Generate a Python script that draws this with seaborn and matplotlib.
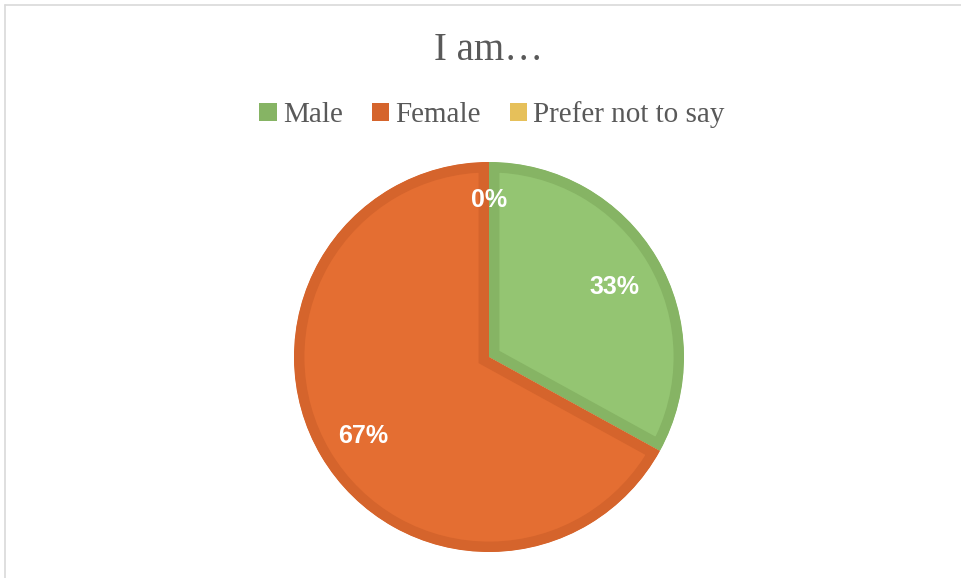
import numpy as np
import pandas as pd
import matplotlib
matplotlib.use("Agg")
import matplotlib.pyplot as plt
import seaborn as sns
from matplotlib.patches import Patch
from matplotlib.lines import Line2D

sns.set_theme(style="white")

# Datos
categorias = ['Male', 'Female', 'Prefer not to say']
porcentajes = [33, 67, 0]
colores = ['#94C572', '#E46E32', '#E6C05A']
bordes = ['#86B464', '#D5642C', '#D9B04A']

df = pd.DataFrame({'categoria': categorias, 'valor': porcentajes})

fig = plt.figure(figsize=(9.61, 5.78), dpi=100)
fig.patch.set_facecolor('white')

# marco gris del grafico
fig.add_artist(Line2D([5/961, 5/961], [0, 1 - 5/578], color='#D9D9D9', lw=1.2))
fig.add_artist(Line2D([5/961, 1], [1 - 5/578, 1 - 5/578], color='#D9D9D9', lw=1.2))

# eje del pie, radio ~195 px centrado en (489, 357)
r_px = 195
lim = 1.03
lado = 2 * lim * r_px
ax = fig.add_axes([(489 - lado / 2) / 961, (578 - 357 - lado / 2) / 578, lado / 961, lado / 578])

wedges, textos, autotextos = ax.pie(
    df['valor'], colors=colores, startangle=90, counterclock=False,
    autopct='%1.0f%%', pctdistance=0.75, radius=1,
    wedgeprops=dict(linewidth=15),
    textprops=dict(color='white', fontsize=18, fontweight='bold', family='Liberation Sans'))

# borde solo por dentro de cada sector
for w, b in zip(wedges, bordes):
    w.set_edgecolor(b)
    w.set_clip_path(w)
    w.set_clip_on(True)

# etiqueta del 0% un poco mas arriba
x, y = autotextos[2].get_position()
autotextos[2].set_position((x * 0.83 / 0.75, y * 0.83 / 0.75))
for t in autotextos:
    x, y = t.get_position()
    t.set_position((x, y - 0.025))

ax.set_xlim(-lim, lim)
ax.set_ylim(-lim, lim)
ax.set_aspect('equal')
ax.axis('off')

fig.text(489 / 961, 1 - 51 / 578, 'I am…', ha='center', va='center',
         fontsize=28, color='#595959', family='Liberation Serif')

handles = [Patch(facecolor=c, edgecolor='none') for c in ['#86B464', '#D5642C', '#E6C05A']]
leg = fig.legend(handles, categorias, loc='center', bbox_to_anchor=(492 / 961, 1 - 115 / 578),
                 ncol=3, frameon=False, handlelength=0.6, handleheight=0.6, handletextpad=0.2,
                 columnspacing=1.0, prop={'family': 'Liberation Serif', 'size': 21})
for t in leg.get_texts():
    t.set_color('#595959')

fig.savefig('out.png', dpi=100)
